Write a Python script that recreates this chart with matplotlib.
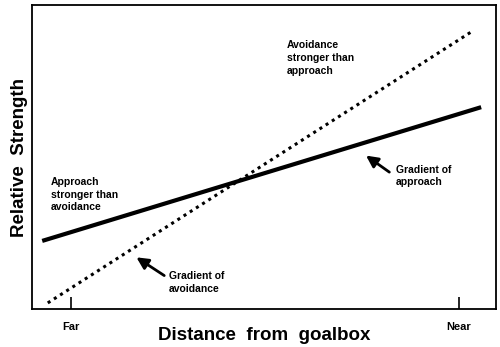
import matplotlib.pyplot as plt

# distance axis runs 0 (far) .. 10 (near); strength 0 .. 10
approach_x = [0.22, 9.68]
approach_y = [2.24, 6.64]
avoid_x = [0.34, 9.46]
avoid_y = [0.20, 9.11]

tick_pos = [0.84, 9.2]
tick_labels = ['Far', 'Near']

plt.rcParams['font.family'] = ['Liberation Sans', 'DejaVu Sans']

fig = plt.figure(figsize=(5, 3.47), dpi=100)
ax = fig.add_axes([0.064, 0.1095, 0.928, 0.876])

ax.plot(approach_x, approach_y, color='black', lw=3.0, solid_capstyle='butt')
ax.plot(avoid_x, avoid_y, color='black', lw=2.2, linestyle=(0, (1, 1.4)))

ax.set_xlim(0, 10)
ax.set_ylim(0, 10)
ax.set_yticks([])
ax.set_xticks(tick_pos)
ax.set_xticklabels(tick_labels, fontsize=8, fontweight='bold')
ax.tick_params(axis='x', direction='in', length=9, width=1.2, pad=9)
for s in ax.spines.values():
    s.set_linewidth(1.3)

ax.set_xlabel('Distance  from  goalbox', fontsize=13.5, fontweight='bold', labelpad=-3)
ax.set_ylabel('Relative  Strength', fontsize=13.5, fontweight='bold', labelpad=3)

# annotations
note = dict(fontsize=7.5, fontweight='bold', va='top', ha='left', linespacing=1.35)
ax.text(5.5, 8.85, 'Avoidance\nstronger than\napproach', **note)
ax.text(0.4, 4.35, 'Approach\nstronger than\navoidance', **note)
ax.text(7.85, 4.75, 'Gradient of\napproach', **note)
ax.text(2.95, 1.25, 'Gradient of\navoidance', **note)

arrow = dict(arrowstyle='-|>,head_length=0.7,head_width=0.35', color='black', lw=2.0)
ax.annotate('', xy=(7.15, 5.1), xytext=(7.75, 4.45), arrowprops=arrow)
ax.annotate('', xy=(2.2, 1.75), xytext=(2.9, 1.05), arrowprops=arrow)

fig.savefig('out.png', dpi=100)
